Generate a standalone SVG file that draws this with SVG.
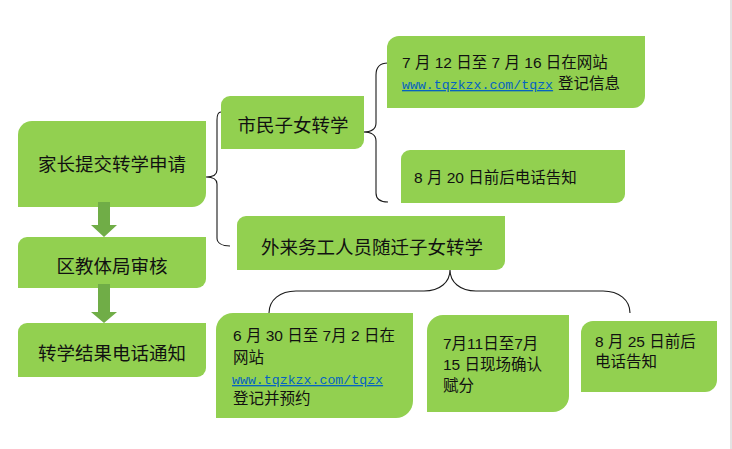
<svg xmlns="http://www.w3.org/2000/svg" width="732" height="449" viewBox="0 0 732 449">
<style>
.box{fill:#92D050;}
.arrow{fill:#70AD47;}
.brace{fill:none;stroke:#1a1a1a;stroke-width:1.1;}
.big{font-family:"Noto Sans CJK SC","Liberation Sans",sans-serif;font-size:18.5px;fill:#111;text-anchor:middle;}
.sm{font-family:"Liberation Sans","Noto Sans CJK SC",sans-serif;font-size:15.5px;fill:#111;}
.url{font-family:"Liberation Mono",monospace;font-size:13.25px;fill:#0563C1;text-decoration:underline;}
</style>
<rect x="0" y="0" width="732" height="449" fill="#ffffff"/>
<rect x="730" y="0" width="2" height="449" fill="#e3e3e3"/>

<g id="connectors">
<path class="brace" d="M221,112 C218,112 217,115 217,120 V170 C217,175 213,177 206,177 C213,177 217,179 217,184 V238 C217,243 222,246 230,246"/>
<path class="brace" d="M388,63 C380,63 376,67 376,75 V123 C376,129 371,132 363,132 C371,132 376,135 376,141 V193 C376,199 380,202 388,202"/>
<path class="brace" d="M269,313 C269,300 280,291 296,291 L424,291 C440,291 450,282 450,270 C450,282 460,291 476,291 L603,291 C619,291 630,300 630,313"/>
</g>

<g id="n-apply">
<path class="box" d="M32,121 H206 V193 A14,14 0 0 1 192,207 H18 V135 A14,14 0 0 1 32,121 Z"/>
<text class="big" x="112" y="171">家长提交转学申请</text>
</g>
<g id="n-review">
<path class="box" d="M27,237 H206 V279 A9,9 0 0 1 197,288 H18 V246 A9,9 0 0 1 27,237 Z"/>
<text class="big" x="112" y="273">区教体局审核</text>
</g>
<g id="n-notify">
<path class="box" d="M27,323 H206 V368 A9,9 0 0 1 197,377 H18 V332 A9,9 0 0 1 27,323 Z"/>
<text class="big" x="112" y="360">转学结果电话通知</text>
</g>
<g id="arrows">
<path class="arrow" d="M98,202 H110 V225 H117 L104,237 L91,225 H98 Z"/>
<path class="arrow" d="M98,284 H110 V312 H117 L104,323 L91,312 H98 Z"/>
</g>

<g id="n-citizen">
<path class="box" d="M230,96 H364 V140 A9,9 0 0 1 355,149 H221 V105 A9,9 0 0 1 230,96 Z"/>
<text class="big" x="293" y="132">市民子女转学</text>
</g>
<g id="n-migrant">
<path class="box" d="M246,216 H505 V261 A9,9 0 0 1 496,270 H237 V225 A9,9 0 0 1 246,216 Z"/>
<text class="big" x="372" y="254">外来务工人员随迁子女转学</text>
</g>

<g id="n-citizen-1">
<path class="box" d="M399,36 H645 V96 A12,12 0 0 1 633,108 H387 V48 A12,12 0 0 1 399,36 Z"/>
<text class="sm" x="402" y="68">7 月 12 日至 7 月 16 日在网站</text>
<text class="url" x="402" y="89">www.tqzkzx.com/tqzx</text>
<text class="sm" x="558" y="89">登记信息</text>
</g>
<g id="n-citizen-2">
<path class="box" d="M410,150 H625 V194 A9,9 0 0 1 616,203 H401 V159 A9,9 0 0 1 410,150 Z"/>
<text class="sm" x="414" y="183">8 月 20 日前后电话告知</text>
</g>

<g id="n-migrant-1">
<path class="box" d="M233,313 H413 V401 A17,17 0 0 1 396,418 H216 V330 A17,17 0 0 1 233,313 Z"/>
<text class="sm" x="233" y="341">6 月 30 日至 7月 2 日在</text>
<text class="sm" x="233" y="363">网站</text>
<text class="url" x="232" y="384">www.tqzkzx.com/tqzx</text>
<text class="sm" x="233" y="404">登记并预约</text>
</g>
<g id="n-migrant-2">
<path class="box" d="M443,315 H569 V396 A16,16 0 0 1 553,412 H427 V331 A16,16 0 0 1 443,315 Z"/>
<text class="sm" x="443" y="349">7月11日至7月</text>
<text class="sm" x="443" y="370">15 日现场确认</text>
<text class="sm" x="443" y="391">赋分</text>
</g>
<g id="n-migrant-3">
<path class="box" d="M593,321 H717 V380 A12,12 0 0 1 705,392 H581 V333 A12,12 0 0 1 593,321 Z"/>
<text class="sm" x="595" y="347">8 月 25 日前后</text>
<text class="sm" x="595" y="367">电话告知</text>
</g>
</svg>
